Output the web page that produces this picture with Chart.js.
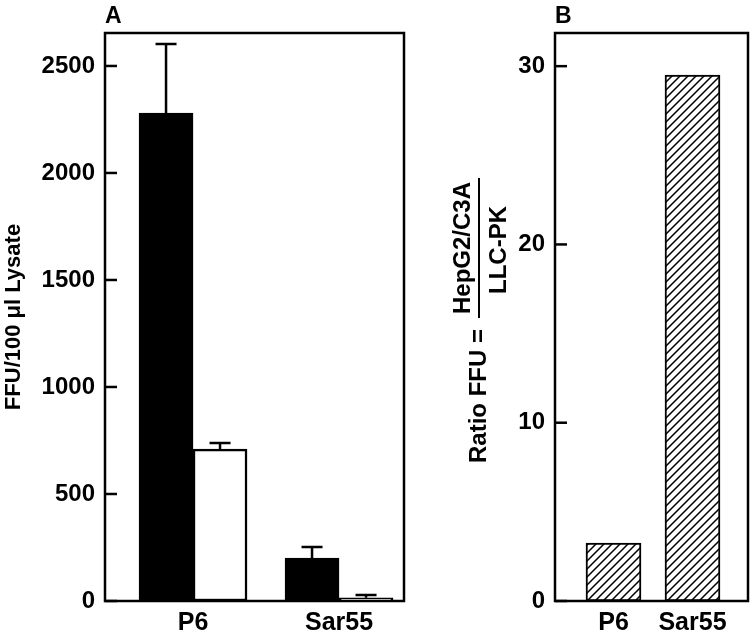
<!DOCTYPE html>
<html><head><meta charset="utf-8">
<script src="https://cdn.jsdelivr.net/npm/chart.js@4"></script>
<style>
html,body{margin:0;padding:0;background:#fff;}
#a{position:absolute;left:0;top:0;width:420px;height:632px;}
#b{position:absolute;left:420px;top:0;width:330px;height:632px;}
</style></head><body>
<div id="a"><canvas id="ca"></canvas></div>
<div id="b"><canvas id="cb"></canvas></div>
<script>
// ---- data ----
const categories = ['P6', 'Sar55'];
const categoryPositions = [1, 2];
const hepg2Values = [2280, 201];   // black bars (panel A)
const hepg2Errors = [323, 51];
const llcpkValues = [710, 15];     // white bars (panel A)
const llcpkErrors = [28, 13];
const ratioValues = [3.25, 29.5];  // panel B
const yTicksA = [0, 500, 1000, 1500, 2000, 2500];
const yTicksB = [0, 10, 20, 30];

const FONT = "'Liberation Sans', Arial, Helvetica, sans-serif";
Chart.defaults.font.family = FONT;
Chart.defaults.color = '#000';

function pts(vals) { return vals.map((v, i) => ({ x: categoryPositions[i], y: v })); }

function hatch() {
  const c = document.createElement('canvas');
  c.width = 8; c.height = 8;
  const g = c.getContext('2d');
  g.fillStyle = '#fff'; g.fillRect(0, 0, 8, 8);
  g.strokeStyle = '#000'; g.lineWidth = 1.5;
  g.beginPath();
  g.moveTo(-1, 9); g.lineTo(9, -1);
  g.moveTo(-5, 5); g.lineTo(5, -5);
  g.moveTo(3, 13); g.lineTo(13, 3);
  g.stroke();
  return g.createPattern(c, 'repeat');
}

const deco = {
  id: 'deco',
  afterDatasetsDraw(chart, args, opts) {
    const { ctx, chartArea: a, scales: { y } } = chart;
    ctx.save();
    ctx.strokeStyle = '#000'; ctx.lineWidth = 2.5; ctx.lineCap = 'butt';
    chart.data.datasets.forEach((ds, i) => {
      if (!ds.errors) return;
      const meta = chart.getDatasetMeta(i);
      meta.data.forEach((bar, j) => {
        const v = ds.data[j].y, e = ds.errors[j];
        const yt = y.getPixelForValue(v + e);
        ctx.beginPath();
        ctx.moveTo(bar.x, bar.y); ctx.lineTo(bar.x, yt);
        ctx.moveTo(bar.x - 10.5, yt); ctx.lineTo(bar.x + 10.5, yt);
        ctx.stroke();
      });
    });
    ctx.strokeRect(a.left, a.top, a.right - a.left, a.bottom - a.top);
    y.ticks.forEach(t => {
      const py = y.getPixelForValue(t.value);
      ctx.beginPath(); ctx.moveTo(a.left, py); ctx.lineTo(a.left + 12, py); ctx.stroke();
    });
    ctx.fillStyle = '#000';
    ctx.font = 'bold 23px ' + FONT;
    ctx.textAlign = 'left'; ctx.textBaseline = 'alphabetic';
    ctx.fillText(opts.letter, a.left, 23);
    if (opts.fraction) {
      const rot = (txt, x, yy, size) => {
        ctx.save(); ctx.translate(x, yy); ctx.rotate(-Math.PI / 2);
        ctx.font = 'bold ' + size + 'px ' + FONT;
        ctx.textAlign = 'center'; ctx.textBaseline = 'middle';
        ctx.fillText(txt, 0, 0); ctx.restore();
      };
      rot('Ratio FFU =', 59, 396, 24);
      rot('HepG2/C3A', 43, 248, 24);
      rot('LLC-PK', 79, 250, 24);
      ctx.lineWidth = 2;
      ctx.beginPath(); ctx.moveTo(59, 178); ctx.lineTo(59, 318); ctx.stroke();
    }
    ctx.restore();
  }
};

function xScale(min, max) {
  return {
    type: 'linear', min: min, max: max, offset: false,
    afterBuildTicks: s => { s.ticks = categoryPositions.map(v => ({ value: v })); },
    afterFit: s => { s.height = 31; },
    grid: { display: false, drawTicks: false }, border: { display: false },
    ticks: { padding: 7, autoSkip: false, maxRotation: 0, color: '#000',
      font: { size: 25, weight: 'bold' },
      callback: v => { const k = categoryPositions.indexOf(v); return k >= 0 ? categories[k] : ''; } }
  };
}

new Chart(document.getElementById('ca'), {
  type: 'bar',
  data: {
    datasets: [
      { data: pts(hepg2Values), errors: hepg2Errors, backgroundColor: '#000', borderColor: '#000', borderWidth: 2, borderSkipped: false, barThickness: 54 },
      { data: pts(llcpkValues), errors: llcpkErrors, backgroundColor: '#fff', borderColor: '#000', borderWidth: 2.5, borderSkipped: false, barThickness: 54 }
    ]
  },
  options: {
    responsive: true, maintainAspectRatio: false, animation: false,
    layout: { padding: { left: 0, top: 33, right: 16, bottom: 0 } },
    plugins: { legend: { display: false }, tooltip: { enabled: false }, deco: { letter: 'A' } },
    scales: {
      x: xScale(0.397, 2.445),
      y: {
        min: 0, max: 2654,
        afterBuildTicks: s => { s.ticks = yTicksA.map(v => ({ value: v })); },
        afterFit: s => { s.width = 105; },
        grid: { display: false, drawTicks: false }, border: { display: false },
        ticks: { padding: 10, color: '#000', font: { size: 24, weight: 'bold' }, callback: v => String(v) },
        title: { display: true, text: 'FFU/100 μl Lysate', color: '#000', font: { size: 22, weight: 'bold' }, padding: { top: 1, bottom: 0 } }
      }
    }
  },
  plugins: [deco]
});

new Chart(document.getElementById('cb'), {
  type: 'bar',
  data: {
    datasets: [
      { data: pts(ratioValues), backgroundColor: hatch(), borderColor: '#000', borderWidth: 2, borderSkipped: false, barThickness: 55 }
    ]
  },
  options: {
    responsive: true, maintainAspectRatio: false, animation: false,
    layout: { padding: { left: 0, top: 33, right: 2, bottom: 0 } },
    plugins: { legend: { display: false }, tooltip: { enabled: false }, deco: { letter: 'B', fraction: true } },
    scales: {
      x: xScale(0.2595, 2.7025),
      y: {
        min: 0, max: 31.86,
        afterBuildTicks: s => { s.ticks = yTicksB.map(v => ({ value: v })); },
        afterFit: s => { s.width = 135; },
        grid: { display: false, drawTicks: false }, border: { display: false },
        ticks: { padding: 10, color: '#000', font: { size: 24, weight: 'bold' }, callback: v => String(v) }
      }
    }
  },
  plugins: [deco]
});
</script>
</body></html>
